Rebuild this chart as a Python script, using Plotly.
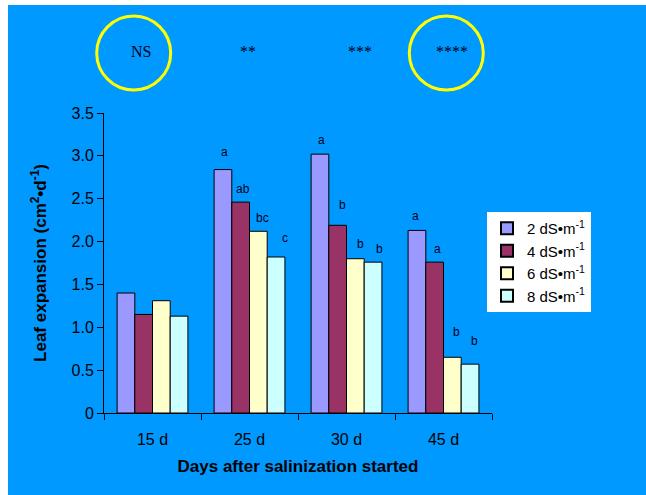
import plotly.graph_objects as go

categories = ["15 d", "25 d", "30 d", "45 d"]
series_names = ["2 dS•m<sup>-1</sup>", "4 dS•m<sup>-1</sup>", "6 dS•m<sup>-1</sup>", "8 dS•m<sup>-1</sup>"]
ec2 = [1.40, 2.84, 3.02, 2.13]
ec4 = [1.15, 2.46, 2.19, 1.76]
ec6 = [1.31, 2.12, 1.80, 0.65]
ec8 = [1.13, 1.82, 1.76, 0.57]
letters2 = ["", "a", "a", "a"]
letters4 = ["", "ab", "b", "a"]
letters6 = ["", "bc", "b", "b"]
letters8 = ["", "c", "b", "b"]
significance = ["NS", "**", "***", "****"]
y_ticks = [0, 0.5, 1.0, 1.5, 2.0, 2.5, 3.0, 3.5]
y_ticktext = ["0", "0.5", "1.0", "1.5", "2.0", "2.5", "3.0", "3.5"]

colors = ["#9999FF", "#993366", "#FFFFCC", "#CCFFFF"]
values = [ec2, ec4, ec6, ec8]
letters = [letters2, letters4, letters6, letters8]

# style: letter pixel offsets (above bar top, right of bar centre)
letter_dy = [[0, 18, 14, 14], [0, 13, 20, 13], [0, 13, 15, 25], [0, 19, 13, 23]]
letter_dx = [[0, 2, 2, -1], [0, 2, 5, 3], [0, 4, 5, 4], [0, 9, 6, 4]]

BG = "#0099FF"
OX, OY = 8, 5                      # white page strip (left, top)
W, H = 646, 495                    # figure slightly larger than visible area; overflow hidden
# plot area in window pixels
PX0, PX1, PY0, PY1 = 104, 492, 113, 413
pw, ph = PX1 - PX0, PY1 - PY0
L, T = PX0 - OX, PY0 - OY
R, B = W - L - pw, H - T - ph


def px_x(px):
    return (px - PX0) / pw


def px_y(py):
    return (PY1 - py) / ph


fig = go.Figure()
for name, vals, col in zip(series_names, values, colors):
    fig.add_trace(go.Bar(
        x=categories, y=vals, name=name,
        marker=dict(color=col, line=dict(color="black", width=1)),
    ))

bargap = 0.27
bar_w = pw / len(categories) * (1 - bargap) / len(values)
annotations = []
for i, (labs, vals) in enumerate(zip(letters, values)):
    offset = (i - (len(values) - 1) / 2) * bar_w
    for j, (lab, v) in enumerate(zip(labs, vals)):
        if lab:
            annotations.append(dict(
                x=categories[j], y=v, xref="x", yref="y", text=lab, showarrow=False,
                xshift=offset + letter_dx[i][j], yshift=letter_dy[i][j],
                font=dict(family="Arial, Liberation Sans", size=12, color="#000022"),
                xanchor="center", yanchor="middle",
            ))

sig_px = [141, 248, 360, 452]
for s, px in zip(significance, sig_px):
    annotations.append(dict(
        x=px_x(px), y=px_y(52), xref="paper", yref="paper",
        text=s, showarrow=False, xanchor="center", yanchor="middle",
        font=dict(family="Liberation Serif, Times New Roman", size=16, color="#000022"),
    ))

shapes = []
for cx0, cx1 in [(96.7, 170.7), (409.3, 483.3)]:
    shapes.append(dict(
        type="circle", xref="paper", yref="paper",
        x0=px_x(cx0), x1=px_x(cx1), y0=px_y(90), y1=px_y(16),
        line=dict(color="#FFFF00", width=3), fillcolor="rgba(0,0,0,0)",
    ))

fig.update_layout(
    width=W, height=H,
    margin=dict(l=L, r=R, t=T, b=B, pad=0),
    paper_bgcolor=BG, plot_bgcolor=BG,
    barmode="group", bargap=bargap, bargroupgap=0,
    font=dict(family="Arial, Liberation Sans", color="black", size=16),
    showlegend=True,
    legend=dict(
        x=px_x(487), y=px_y(212), xanchor="left", yanchor="top",
        bgcolor="white", borderwidth=0,
        font=dict(family="Arial, Liberation Sans", size=15, color="black"),
        itemsizing="constant", tracegroupgap=0, itemwidth=30,
    ),
    annotations=annotations,
    shapes=shapes,
    xaxis=dict(
        showline=True, linecolor="black", linewidth=1,
        ticks="outside", tickson="boundaries", ticklen=6, tickcolor="black",
        showgrid=False, zeroline=False, ticklabelstandoff=12,
        tickfont=dict(size=16, color="black"),
        title=dict(text="<b>Days after salinization started</b>",
                   font=dict(size=17, color="black"), standoff=12),
    ),
    yaxis=dict(
        range=[0, 3.5], tickvals=y_ticks, ticktext=y_ticktext,
        showline=True, linecolor="black", linewidth=1,
        ticks="outside", ticklen=6, tickcolor="black",
        showgrid=False, zeroline=False,
        tickfont=dict(size=16, color="black"),
        title=dict(text="<b>Leaf expansion (cm<sup>2</sup>•d<sup>-1</sup>)</b>",
                   font=dict(size=17, color="black"), standoff=20),
    ),
)

fig.write_html(
    "out.html",
    post_script=("var h=document.documentElement, b=document.body;"
                 "h.style.overflow='hidden'; h.style.background='" + BG + "';"
                 "b.style.overflow='hidden'; b.style.margin='0';"
                 "b.style.background='" + BG + "';"
                 "b.style.borderLeft='" + str(OX) + "px solid white';"
                 "b.style.borderTop='" + str(OY) + "px solid white';"),
)
